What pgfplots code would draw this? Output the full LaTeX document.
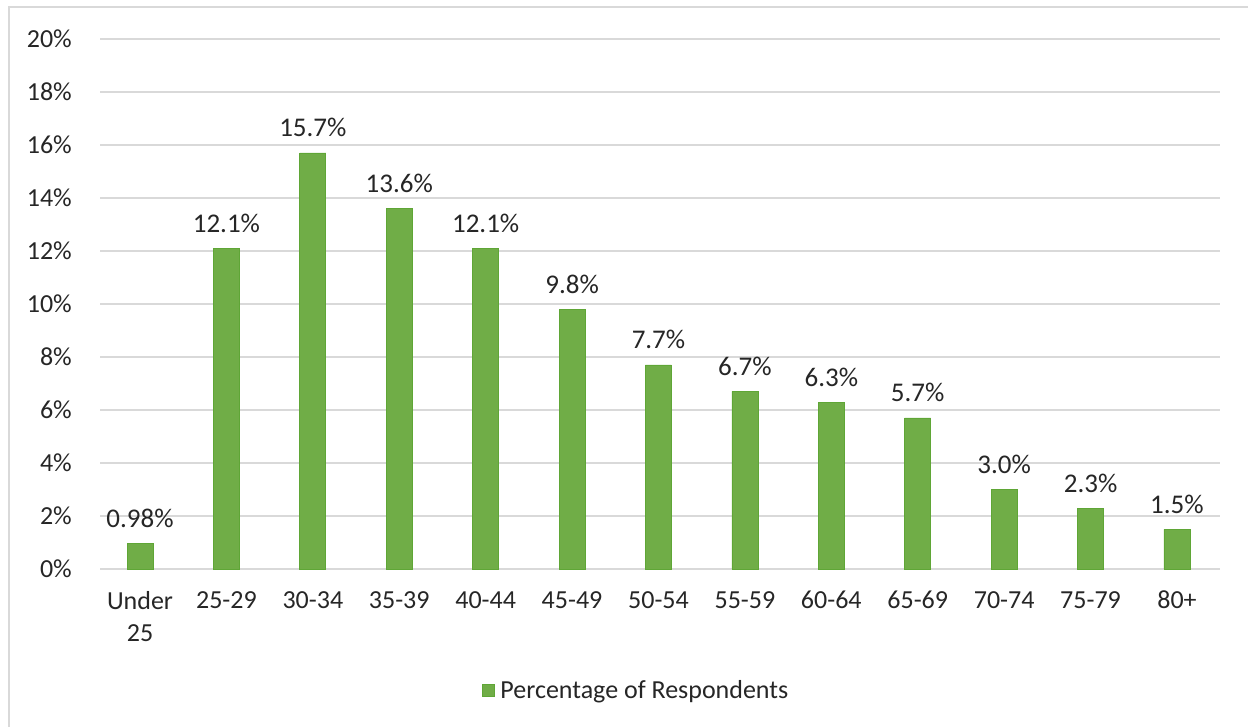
\documentclass[border=0pt]{standalone}
\usepackage{pgfplots}
\pgfplotsset{compat=1.18}
\usepackage{fontspec}
\setmainfont{Carlito}
\definecolor{barg}{HTML}{70AD47}
\definecolor{bare}{HTML}{5FA636}
\definecolor{gridg}{HTML}{D9D9D9}
\definecolor{txt}{HTML}{262626}
\begin{document}
\begin{tikzpicture}
\useasboundingbox (0,0) rectangle (1248pt,-727pt);
\draw[gridg, line width=2pt] (9pt,-800pt) -- (9pt,-7pt) -- (1300pt,-7pt);
\begin{axis}[
  at={(100pt,-569pt)}, anchor=south west,
  scale only axis, width=1120pt, height=530pt,
  xmin=-0.463, xmax=12.498, ymin=0, ymax=20,
  axis line style={draw=none},
  ytick={0,2,...,20},
  yticklabel={\pgfmathprintnumber{\tick}\%},
  /pgf/number format/assume math mode=true,
  ymajorgrids, grid style={gridg, line width=2pt},
  major tick length=0pt,
  xtick={0,...,12},
  xticklabels={{Under\\25},25-29,30-34,35-39,40-44,45-49,50-54,55-59,60-64,65-69,70-74,75-79,80+},
  xticklabel style={align=center, font=\fontsize{26}{32}\selectfont, text=txt, anchor=north, inner sep=0pt, yshift=-22pt},
  yticklabel style={font=\fontsize{26}{30}\selectfont, text=txt, anchor=east, inner sep=0pt, xshift=-28pt},
  clip=false,
  legend style={at={(axis description cs:0.4786,-0.228)}, anchor=center, draw=none, font=\fontsize{26}{30}\selectfont, text=txt, inner sep=0pt},
  legend image code/.code={\draw[fill=barg, draw=bare, line width=0.6pt] (0pt,-6pt) rectangle (12pt,6pt);},
  legend cell align=left,
]
\addplot[ybar, bar width=26pt, fill=barg, draw=bare, line width=0.8pt,
  nodes near coords={\pgfplotspointmeta\%},
  point meta=explicit symbolic,
  every node near coord/.append style={font=\fontsize{27}{30}\selectfont, text=txt, anchor=south, yshift=12pt},
] table[meta=lab] {
x y lab
0 0.98 0.98
1 12.1 12.1
2 15.7 15.7
3 13.6 13.6
4 12.1 12.1
5 9.8 9.8
6 7.7 7.7
7 6.7 6.7
8 6.3 6.3
9 5.7 5.7
10 3.0 3.0
11 2.3 2.3
12 1.5 1.5
};
\addlegendentry{\hspace{4pt}Percentage of Respondents}
\end{axis}
\end{tikzpicture}
\end{document}
